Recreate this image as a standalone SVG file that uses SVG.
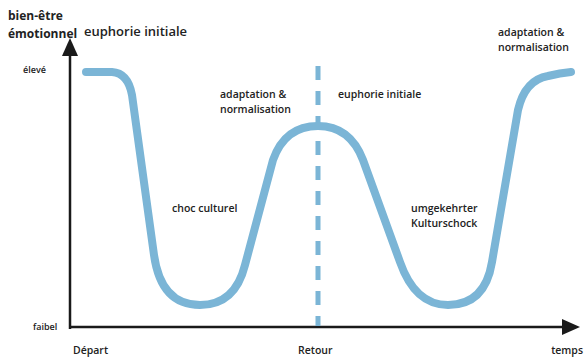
<svg xmlns="http://www.w3.org/2000/svg" width="585" height="358" viewBox="0 0 585 358">
<style>
text{font-family:"Open Sans","Liberation Sans",sans-serif;fill:#222}
.t{font-size:10.5px;font-weight:600}
.s{font-size:9px;font-weight:600}
.h{font-size:12px;font-weight:700}
.curve{fill:none;stroke:#7bb5d6;stroke-width:8;stroke-linecap:round;stroke-linejoin:round}
.axis{stroke:#1a1a1a;stroke-width:2.5;fill:none}
</style>
<rect width="585" height="358" fill="#fff"/>
<g id="axes">
<line class="axis" x1="70" y1="329" x2="70" y2="52"/>
<polygon points="70,38 62,56 78,56" fill="#1a1a1a"/>
<line class="axis" x1="69" y1="327" x2="566" y2="327"/>
<polygon points="580,327 562,319 562,335" fill="#1a1a1a"/>
</g>
<g id="connectors">
<line x1="318" y1="66" x2="318" y2="326" stroke="#7bb5d6" stroke-width="5" stroke-dasharray="14 11"/>
<path class="curve" d="M 86 72 L 112 72 Q 128 73 132 95 L 154 255 Q 161 305 200 305 Q 235 305 245 265 L 273 160 Q 285 126 318 126 Q 350 126 363 160 L 400 262 Q 415 305 448 305 Q 485 305 492 262 L 518 110 Q 525 80 548 76 Q 560 73 571 72"/>
</g>
<g id="labels">
<text class="h" x="8" y="20">bien-être</text>
<text class="h" x="8" y="38">émotionnel</text>
<text x="84" y="36" style="font-size:13px;font-weight:600">euphorie initiale</text>
<text class="s" x="23" y="73">élevé</text>
<text class="s" x="33" y="330">faibel</text>
<text class="t" x="220" y="98">adaptation &amp;</text>
<text class="t" x="220" y="113">normalisation</text>
<text class="t" x="338" y="98">euphorie initiale</text>
<text class="t" x="172" y="212">choc culturel</text>
<text class="t" x="411" y="212">umgekehrter</text>
<text class="t" x="411" y="227">Kulturschock</text>
<text class="t" x="498" y="36">adaptation &amp;</text>
<text class="t" x="498" y="51">normalisation</text>
<text class="t" x="73" y="354">Départ</text>
<text class="t" x="298" y="354">Retour</text>
<text class="t" x="583" y="354" text-anchor="end">temps</text>
</g>
</svg>
